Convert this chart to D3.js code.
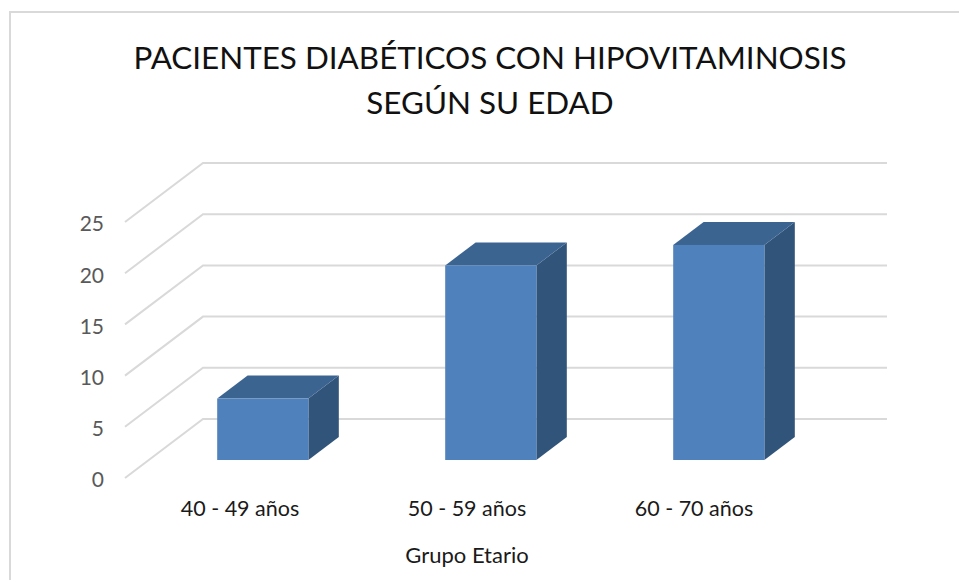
<!DOCTYPE html>
<html>
<head>
<meta charset="utf-8">
<script src="https://cdn.jsdelivr.net/npm/d3@7"></script>
<style>
  html, body { margin: 0; padding: 0; background: #fff; }
  svg { display: block; }
  text { font-family: Lato, "Open Sans", sans-serif; }
</style>
</head>
<body>
<svg id="chart" width="959" height="580"></svg>
<script>
const categories = ["40 - 49 años", "50 - 59 años", "60 - 70 años"];
const values = [6, 19, 21];
const yTicks = [0, 5, 10, 15, 20, 25];
const titleLines = ["PACIENTES DIABÉTICOS CON HIPOVITAMINOSIS", "SEGÚN SU EDAD"];
const xTitle = "Grupo Etario";

let svg = d3.select("#chart");

// chart frame: only left and top show, the rest is cropped off in the picture
svg.append("path")
  .attr("fill", "none")
  .attr("stroke", "#d9d9d9")
  .attr("stroke-width", 2)
  .attr("d", d3.line()([[10, 580], [10, 12], [959, 12]]));

// front plane of the fake 3d box
let x = d3.scaleBand().domain(categories).range([125, 809]);
let xLabel = d3.scalePoint().domain(categories).range([240, 694]);
let y = d3.scaleLinear().domain([0, 25]).range([478, 222]);
// depth goes 0 (front) to 1 (back wall)
let depthX = d3.scaleLinear().domain([0, 1]).range([0, 78]);
let depthY = d3.scaleLinear().domain([0, 1]).range([0, -59]);

let grid = svg.append("g").attr("class", "grid");
grid.selectAll("path")
  .data(yTicks)
  .join("path")
    .attr("fill", "none")
    .attr("stroke", "#d9d9d9")
    .attr("stroke-width", 2)
    .attr("d", d => d3.line()([
      [x.range()[0], y(d)],
      [x.range()[0] + depthX(1), y(d) + depthY(1)],
      [x.range()[1] + depthX(1), y(d) + depthY(1)]
    ]));

let axisY = svg.append("g").attr("class", "axisY");
axisY.selectAll("text")
  .data(yTicks)
  .join("text")
    .attr("x", 104)
    .attr("y", d => y(d) + 2)
    .attr("dy", "0.35em")
    .attr("text-anchor", "end")
    .attr("font-size", 21)
    .attr("fill", "#595959")
    .text(d => d);

// bars sit between these two depths
const barFront = 0.305, barBack = 0.695, barShare = 0.4;
let bars = svg.append("g").attr("class", "bars")
  .selectAll("g")
  .data(categories.map((c, i) => ({c, v: values[i]})))
  .join("g");

let barX0 = d => x(d.c) + x.bandwidth() * (1 - barShare) / 2 + depthX(barFront);
let barX1 = d => barX0(d) + x.bandwidth() * barShare;
let barBase = y(0) + depthY(barFront);
let barTop = d => y(d.v) + depthY(barFront);
let dx = depthX(barBack) - depthX(barFront), dy = depthY(barBack) - depthY(barFront);

bars.append("path")
  .attr("fill", "#31547a")
  .attr("d", d => d3.line()([
    [barX1(d), barTop(d)], [barX1(d) + dx, barTop(d) + dy],
    [barX1(d) + dx, barBase + dy], [barX1(d), barBase]
  ]) + "Z");
bars.append("path")
  .attr("fill", "#3c6491")
  .attr("d", d => d3.line()([
    [barX0(d), barTop(d)], [barX0(d) + dx, barTop(d) + dy],
    [barX1(d) + dx, barTop(d) + dy], [barX1(d), barTop(d)]
  ]) + "Z");
bars.append("rect")
  .attr("fill", "#4f81bd")
  .attr("x", barX0)
  .attr("y", barTop)
  .attr("width", x.bandwidth() * barShare)
  .attr("height", d => barBase - barTop(d));

let axisX = svg.append("g").attr("class", "axisX");
axisX.selectAll("text")
  .data(categories)
  .join("text")
    .attr("x", d => xLabel(d))
    .attr("y", 516)
    .attr("text-anchor", "middle")
    .attr("font-size", 21.5)
    .attr("fill", "#1a1a1a")
    .text(d => d);

svg.append("text")
  .attr("x", 467).attr("y", 563)
  .attr("text-anchor", "middle")
  .attr("font-size", 22)
  .attr("fill", "#1a1a1a")
  .text(xTitle);

svg.append("g").attr("class", "title")
  .selectAll("text")
  .data(titleLines)
  .join("text")
    .attr("x", 490)
    .attr("y", (d, i) => 68.5 + i * 45.5)
    .attr("text-anchor", "middle")
    .attr("font-size", 31.4)
    .attr("fill", "#111")
    .text(d => d);
</script>
</body>
</html>
